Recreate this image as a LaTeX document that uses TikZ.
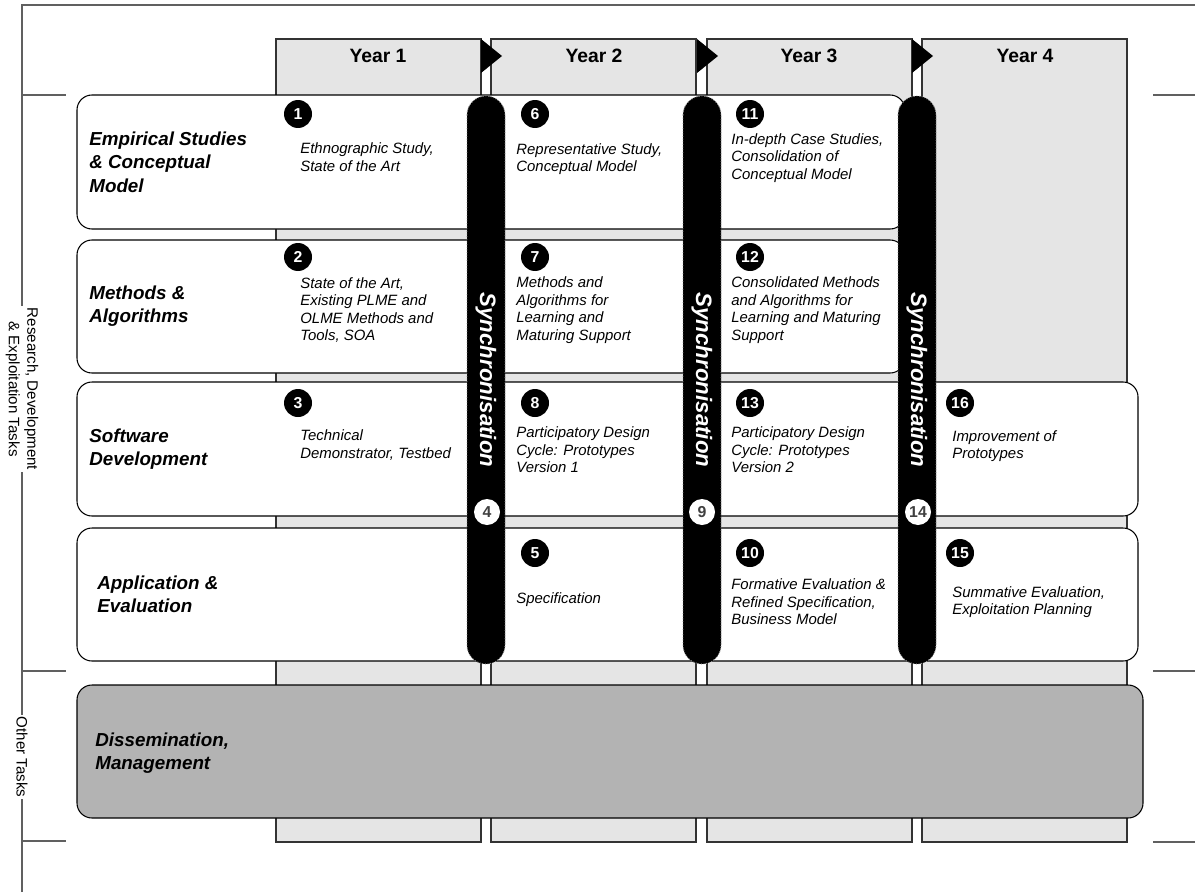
\documentclass[tikz,border=0pt]{standalone}
\usepackage{fontspec}
\setmainfont{Liberation Sans}
\usepackage{tikz}
\usetikzlibrary{positioning}

\definecolor{yearfill}{RGB}{229,229,229}
\definecolor{otherfill}{RGB}{179,179,179}
\definecolor{framegray}{RGB}{96,96,96}
\definecolor{numgray}{RGB}{64,64,64}

\tikzset{
  frameline/.style={draw=framegray, line width=1.1pt},
  yearcol/.style={draw=black!80, fill=yearfill, line width=0.6pt},
  taskrow/.style={draw=black, fill=white, line width=0.6pt, rounded corners=0.3cm},
  syncbar/.style={fill=black, draw=black!45, densely dotted, line width=0.5pt, rounded corners=0.38cm},
  rowlabel/.style={anchor=west, align=left, inner sep=0pt, font=\fontsize{10.7}{13.3}\selectfont\bfseries\itshape},
  task/.style={anchor=west, align=left, inner sep=0pt, font=\fontsize{8.5}{10}\selectfont\itshape},
  numblack/.style={circle, fill=black, text=white, inner sep=0pt, minimum size=0.56cm, font=\fontsize{9}{9}\selectfont\bfseries},
  numwhite/.style={circle, fill=white, text=numgray, inner sep=0pt, minimum size=0.52cm, font=\fontsize{9}{9}\selectfont\bfseries},
  synclabel/.style={rotate=-90, text=white, font=\fontsize{12.7}{14}\selectfont\bfseries\itshape},
  yearlabel/.style={font=\fontsize{11}{13}\selectfont\bfseries},
  sidelabel/.style={rotate=-90, fill=white, align=center, inner sep=1pt, font=\fontsize{8.6}{10.6}\selectfont}
}

\begin{document}
\begin{tikzpicture}[x=0.02cm, y=-0.02cm]
  \useasboundingbox (0,0) rectangle (1195,892);

  % Outer frame and ticks
  \draw[frameline] (22,892) -- (22,5) -- (1195,5);
  \draw[frameline] (22,95) -- (66,95);
  \draw[frameline] (22,671) -- (66,671);
  \draw[frameline] (22,841) -- (66,841);
  \draw[frameline] (1153,95) -- (1195,95);
  \draw[frameline] (1153,671) -- (1195,671);
  \draw[frameline] (1153,842) -- (1195,842);

  % Year columns
  \foreach \x in {276,491,707,922}
    \draw[yearcol] (\x,39) rectangle ++(205,803);
  \foreach \x in {481,697,912}
    \fill (\x,39) -- ++(21,17) -- ++(-21,17) -- cycle;
  \foreach \i/\x in {1/378,2/594,3/809,4/1025}
    \node[yearlabel] (yr\i) at (\x,56) {Year \i};

  % Task rows
  \draw[taskrow] (77,95) rectangle (905,229);
  \draw[taskrow] (77,240) rectangle (905,373);
  \draw[taskrow] (77,382) rectangle (1138,516);
  \draw[taskrow] (77,528) rectangle (1138,661);
  \draw[taskrow, fill=otherfill] (77,685) rectangle (1143,818);

  % Row labels
  \node[rowlabel] (emp) at (89,162) {Empirical Studies\\\& Conceptual\\Model};
  \node[rowlabel] (meth) at (89,306) {Methods \&\\Algorithms};
  \node[rowlabel] (soft) at (89,449) {Software\\Development};
  \node[rowlabel] (appl) at (97,594) {Application \&\\Evaluation};
  \node[rowlabel] (diss) at (95,753) {Dissemination,\\Management};

  % Side labels
  \node[sidelabel] (rde) at (22,389) {Research, Development\\\& Exploitation Tasks};
  \node[sidelabel] (oth) at (22,757) {Other Tasks};

  % Synchronisation bars
  \foreach \i/\x in {1/467,2/683,3/898} {
    \draw[syncbar] (\x,96) rectangle ++(38,568);
    \node[synclabel] (sync\i) at (\x+19,380) {Synchronisation};
  }

  % Tasks
  \node[task] (t1) at (300,157) {Ethnographic Study,\\State of the Art};
  \node[task] (t6) at (516,159) {Representative Study,\\Conceptual Model};
  \node[task] (t11) at (731,158) {In-depth Case Studies,\\Consolidation of\\Conceptual Model};
  \node[task] (t2) at (300,310) {State of the Art,\\Existing PLME and\\OLME Methods and\\Tools, SOA};
  \node[task] (t7) at (516,310) {Methods and\\Algorithms for\\Learning and\\Maturing Support};
  \node[task] (t12) at (731,310) {Consolidated Methods\\and Algorithms for\\Learning and Maturing\\Support};
  \node[task] (t3) at (300,445) {Technical\\Demonstrator, Testbed};
  \node[task] (t8) at (516,450) {Participatory Design\\Cycle: Prototypes\\Version 1};
  \node[task] (t13) at (731,450) {Participatory Design\\Cycle: Prototypes\\Version 2};
  \node[task] (t16) at (952,446) {Improvement of\\Prototypes};
  \node[task] (t5) at (516,600) {Specification};
  \node[task] (t10) at (731,602) {Formative Evaluation \&\\Refined Specification,\\Business Model};
  \node[task] (t15) at (952,602) {Summative Evaluation,\\Exploitation Planning};

  % Numbers
  \foreach \n/\x/\y in {1/298/114,6/535/114,11/750/114,
                        2/298/257,7/535/257,12/750/257,
                        3/298/403,8/535/403,13/750/403,16/960/403,
                        5/535/553,10/750/553,15/960/553}
    \node[numblack] (n\n) at (\x,\y) {\n};
  \foreach \n/\x in {4/487,9/702,14/918}
    \node[numwhite] (n\n) at (\x,512) {\n};

\end{tikzpicture}
\end{document}
